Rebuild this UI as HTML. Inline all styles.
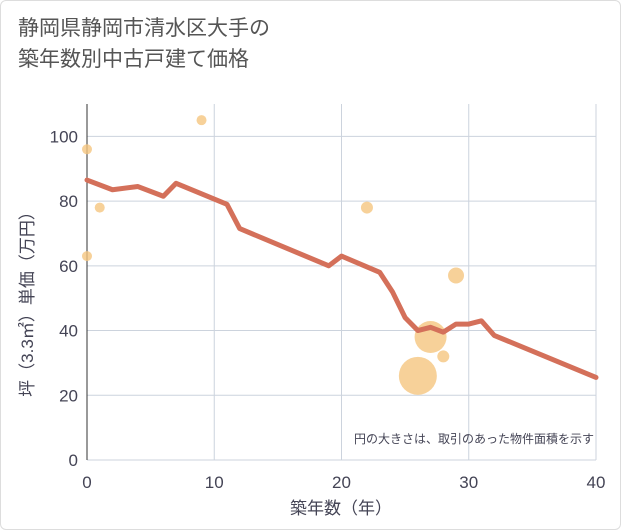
<!DOCTYPE html>
<html><head><meta charset="utf-8"><style>
body{margin:0;background:#fff;font-family:"Liberation Sans","Noto Sans CJK JP",sans-serif;}
#wrap{position:relative;width:619px;height:528px;border:1px solid #ddd;border-radius:6px;background:#fff;}
h1{position:absolute;left:17px;top:12px;margin:0;font-weight:normal;font-size:21px;line-height:31px;color:#555;}
</style></head><body>
<div id="wrap">
<h1>静岡県静岡市清水区大手の<br>築年数別中古戸建て価格</h1>
<svg id="c" width="621" height="530" style="position:absolute;left:-1px;top:-1px"></svg>
</div>
<script>
const xTicks=[0,10,20,30,40];
const yTicks=[0,20,40,60,80,100];
const lineX=[0,2,4,6,7,11,12,19,20,23,24,25,26,27,28,29,30,31,32,40];
const lineY=[86.5,83.5,84.5,81.5,85.5,79,71.5,60,63,58,52,44,40,41,39.5,42,42,43,38.5,25.5];
const bubX=[0,0,1,9,22,29,27,28,26];
const bubY=[96,63,78,105,78,57,38,32,26];
const bubR=[5,5,5,5,6,8,16,6,19];
const NS="http://www.w3.org/2000/svg",svg=document.getElementById('c');
const L=87,R=596,T=104,B=460;
const xs=v=>L+(v/40)*(R-L), ys=v=>B-(v/110)*(B-T);
function mk(t,a,p){const e=document.createElementNS(NS,t);for(const k in a)e.setAttribute(k,a[k]);(p||svg).appendChild(e);return e;}
const bg=mk('rect',{x:L,y:T,width:R-L,height:B-T,fill:'#fff'});


xTicks.forEach(v=>{const g=mk('line',{x1:xs(v),x2:xs(v),y1:T,y2:B,stroke:'#ccd3dd','stroke-width':1});


const t=mk('text',{x:xs(v),y:488,'text-anchor':'middle','font-size':17,fill:'#445'});t.textContent=v;

});
yTicks.forEach(v=>{const g=mk('line',{x1:L,x2:R,y1:ys(v),y2:ys(v),stroke:'#ccd3dd','stroke-width':1});


const t=mk('text',{x:78,y:ys(v)+6,'text-anchor':'end','font-size':17,fill:'#445'});t.textContent=v;

});
const ax=mk('line',{x1:L,x2:L,y1:T,y2:B,stroke:'#333','stroke-width':1});


bubX.forEach((v,i)=>{const c=mk('circle',{cx:xs(v),cy:ys(bubY[i]),r:bubR[i],fill:'#f5c67f','fill-opacity':0.8});

});
const p=mk('polyline',{points:lineX.map((v,i)=>xs(v)+','+ys(lineY[i])).join(' '),fill:'none',stroke:'#d4705a','stroke-width':5,'stroke-linejoin':'round','stroke-linecap':'round'});


const n=mk('text',{x:594,y:443,'text-anchor':'end','font-size':12,fill:'#445'});n.textContent='円の大きさは、取引のあった物件面積を示す';


const xt=mk('text',{x:341,y:514,'text-anchor':'middle','font-size':17,fill:'#445'});xt.textContent='築年数（年）';


const yt=mk('text',{x:0,y:0,'text-anchor':'middle','font-size':17,fill:'#445',transform:'translate(33,300) rotate(-90)'});yt.textContent='坪（3.3㎡）単価（万円）';


</script>
</body></html>
